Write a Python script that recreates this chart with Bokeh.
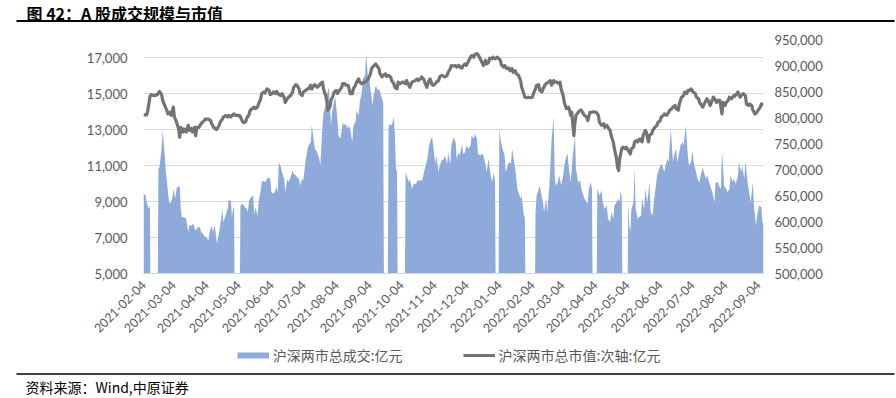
import math
from datetime import datetime, timedelta

from bokeh.plotting import figure
from bokeh.layouts import column
from bokeh.models import (Range1d, LinearAxis, FixedTicker, DatetimeTickFormatter,
                          NumeralTickFormatter, Legend, LegendItem)
from bokeh.core.properties import value
from bokeh.embed import file_html
from bokeh.resources import INLINE

# ---------------- data ----------------
START = "2021-02-04"          # first day on the date axis (day 0)
END = "2022-09-09"            # last day on the date axis

x_tick_labels = ["2021-02-04", "2021-03-04", "2021-04-04", "2021-05-04", "2021-06-04",
                 "2021-07-04", "2021-08-04", "2021-09-04", "2021-10-04", "2021-11-04",
                 "2021-12-04", "2022-01-04", "2022-02-04", "2022-03-04", "2022-04-04",
                 "2022-05-04", "2022-06-04", "2022-07-04", "2022-08-04", "2022-09-04"]
left_ticks = [5000, 7000, 9000, 11000, 13000, 15000, 17000]
right_ticks = [500000, 550000, 600000, 650000, 700000, 750000, 800000, 850000, 900000, 950000]

# market closed (holiday) periods, as (first day, last day) counted from START
closed_days = [(7, 13), (86, 90), (226, 229), (239, 245), (331, 333), (359, 367), (422, 425), (450, 454)]

# 沪深两市总成交 (亿元): (day from START, value)
turnover = [
    (0, 9430), (2, 9330), (3, 8960), (5, 8590), (6, 8780),
    (14, 10820), (15, 10910), (17, 11930), (18, 12950), (20, 11560), (21, 10630), (22, 10070),
    (24, 8960), (25, 8870), (27, 9150), (28, 9700), (30, 9170), (31, 9700), (32, 9800), (34, 9850),
    (35, 8610), (36, 8130), (38, 8130), (40, 8040), (42, 7300), (43, 7670), (45, 7670), (47, 7760),
    (48, 7480), (49, 7390), (51, 7570), (53, 7570), (54, 7300), (56, 7200), (58, 7020), (59, 7020),
    (61, 6830), (62, 7300), (64, 7670), (65, 7300), (67, 7670), (68, 7110), (69, 6650), (71, 7300),
    (73, 8040), (74, 8590), (75, 7850), (77, 8220), (79, 8590), (80, 9060), (82, 9060), (83, 8130),
    (84, 8590), (85, 8690),
    (91, 8780), (93, 8870), (95, 8690), (97, 8590), (98, 8410), (99, 9060), (101, 9240), (103, 9330),
    (104, 8220), (105, 8690), (107, 8220), (108, 8960), (110, 9610), (111, 10070), (112, 10170),
    (114, 10070), (115, 10170), (117, 10350), (119, 10260), (120, 9520), (122, 9430), (123, 9520),
    (125, 9800), (126, 9520), (127, 11190), (129, 10910), (130, 10630), (132, 10260), (133, 9520),
    (135, 10260), (136, 10070), (138, 10350), (140, 10720), (141, 10540), (143, 10440), (144, 10350),
    (146, 10260), (147, 9890), (149, 10260), (150, 10170), (152, 11190), (154, 11930), (155, 12110),
    (157, 12300), (158, 13220), (160, 12300), (161, 11930), (163, 11740), (165, 11370), (166, 11000),
    (168, 13220), (169, 13960), (171, 14330), (172, 14890), (174, 15350), (176, 13220), (177, 13960),
    (179, 14610), (180, 14800), (182, 13590), (183, 12670), (185, 12480), (187, 13410), (188, 13220),
    (190, 13320), (191, 13040), (192, 13220), (194, 13040), (196, 12300), (197, 13220), (199, 13410),
    (200, 14060), (202, 13780), (203, 14520), (205, 15070), (206, 15820), (208, 16000), (209, 17210),
    (211, 15630), (212, 15820), (213, 15260), (215, 14330), (216, 14890), (218, 15440), (220, 15170),
    (221, 15260), (223, 14890), (224, 14700), (225, 14520),
    (230, 13040), (231, 13320), (233, 13220), (235, 13690), (236, 12670), (237, 10820), (238, 10630),
    (246, 10630), (247, 10440), (249, 10070), (250, 10260), (252, 9700), (253, 9890), (254, 9980),
    (256, 9980), (257, 10170), (259, 10170), (261, 10170), (262, 10260), (264, 10820), (265, 11000),
    (267, 11560), (268, 12110), (270, 12480), (271, 12570), (273, 11560), (274, 11090), (275, 11560),
    (277, 10630), (278, 11000), (280, 11280), (282, 11370), (283, 11560), (285, 11090), (286, 11740),
    (288, 11090), (289, 12110), (291, 12570), (293, 12300), (294, 11370), (296, 11740), (297, 11560),
    (299, 12200), (300, 11650), (302, 11740), (303, 12110), (305, 11930), (307, 12110), (308, 12670),
    (310, 12480), (311, 12760), (313, 12480), (314, 11650), (316, 11560), (318, 11650), (319, 11560),
    (321, 11090), (322, 10630), (324, 11370), (325, 10820), (327, 10070), (329, 10630), (330, 10070),
    (334, 13040), (335, 12480), (337, 11930), (339, 11560), (340, 10630), (342, 11000), (343, 11190),
    (345, 11090), (346, 11930), (348, 11190), (349, 10820), (351, 9700), (353, 9330), (354, 9150),
    (355, 9330), (357, 8220), (358, 8130),
    (368, 8410), (369, 9330), (371, 9700), (372, 9890), (373, 9520), (375, 8960), (376, 8410),
    (378, 9150), (379, 8410), (381, 9890), (382, 11000), (383, 12390), (385, 13690), (386, 10440),
    (387, 9890), (389, 10070), (390, 10440), (391, 10260), (392, 9890), (394, 10440), (395, 11000),
    (397, 11560), (398, 11650), (399, 11000), (401, 10070), (402, 10820), (403, 11560), (405, 12670),
    (406, 10820), (408, 10070), (410, 10170), (411, 9700), (413, 9330), (414, 9150), (416, 8960),
    (417, 8870), (418, 9700), (420, 10070), (421, 9700),
    (426, 9700), (427, 9520), (428, 9330), (430, 9610), (431, 8960), (433, 8590), (435, 8780),
    (436, 8040), (438, 7850), (439, 8410), (441, 8040), (442, 8780), (444, 8960), (446, 9150),
    (447, 8960), (448, 9610), (449, 9150),
    (455, 8960), (456, 7670), (457, 7300), (458, 8590), (460, 8960), (461, 10820), (462, 8590),
    (464, 8040), (465, 8130), (467, 8220), (468, 9150), (470, 8590), (471, 9700), (473, 8960),
    (475, 10070), (476, 8410), (478, 8220), (479, 8960), (481, 9890), (482, 10440), (484, 10820),
    (486, 11090), (487, 11000), (489, 10630), (490, 11000), (492, 11370), (493, 11190), (495, 13040),
    (497, 11190), (498, 11560), (500, 11930), (501, 11190), (503, 11740), (504, 12110), (506, 12300),
    (507, 12110), (509, 13220), (511, 11560), (512, 11000), (514, 11190), (515, 11830), (517, 11000),
    (518, 10820), (520, 10260), (522, 10070), (523, 10440), (525, 10910), (526, 10630), (528, 10260),
    (529, 10440), (531, 10070), (533, 9700), (534, 9520), (536, 8960), (537, 10070), (539, 10070),
    (540, 9890), (542, 9700), (543, 11830), (545, 9890), (547, 9700), (548, 9520), (550, 9700),
    (551, 10440), (553, 10070), (554, 10260), (556, 9980), (558, 10440), (559, 11190), (561, 10630),
    (562, 11000), (564, 10260), (565, 11280), (567, 10070), (569, 9330), (570, 8960), (572, 10070),
    (573, 8780), (575, 7670), (576, 8220), (578, 8780), (580, 8690), (581, 7850), (582, 7760),
]

# 沪深两市总市值 (亿元, secondary axis): (day from START, value)
market_cap = [
    (0, 805000), (3, 805000), (4, 813000), (6, 839000), (7, 844000), (10, 842000), (13, 844000),
    (15, 850000), (17, 844000), (18, 833000), (20, 823000), (22, 813000), (23, 807000), (25, 810000),
    (26, 804000), (28, 820000), (29, 801000), (31, 791000), (33, 778000), (34, 762000), (35, 781000),
    (37, 772000), (38, 778000), (40, 772000), (42, 785000), (43, 775000), (45, 779000), (46, 772000),
    (48, 781000), (49, 765000), (50, 781000), (52, 781000), (54, 788000), (55, 790000), (57, 794000),
    (58, 797000), (60, 797000), (61, 797000), (63, 794000), (64, 788000), (66, 781000), (68, 777000),
    (69, 778000), (71, 785000), (72, 791000), (74, 797000), (75, 801000), (77, 804000), (79, 801000),
    (80, 804000), (82, 801000), (83, 804000), (85, 807000), (86, 804000), (90, 804000), (91, 801000),
    (93, 792000), (94, 790000), (96, 792000), (97, 799000), (99, 805000), (100, 813000), (102, 817000),
    (104, 820000), (105, 817000), (107, 820000), (108, 826000), (110, 836000), (111, 846000),
    (113, 849000), (114, 847000), (116, 855000), (118, 852000), (119, 844000), (121, 846000),
    (122, 849000), (124, 846000), (125, 850000), (127, 844000), (129, 842000), (130, 846000),
    (132, 839000), (133, 829000), (135, 836000), (136, 839000), (138, 842000), (140, 849000),
    (141, 858000), (143, 863000), (144, 862000), (146, 855000), (147, 846000), (149, 842000),
    (150, 849000), (152, 852000), (154, 855000), (155, 855000), (157, 862000), (158, 855000),
    (160, 862000), (161, 863000), (163, 858000), (165, 862000), (166, 865000), (168, 868000),
    (169, 855000), (171, 842000), (172, 833000), (173, 814000), (175, 820000), (176, 833000),
    (178, 842000), (179, 849000), (181, 852000), (182, 846000), (184, 852000), (186, 858000),
    (187, 865000), (189, 865000), (190, 862000), (192, 862000), (193, 855000), (194, 846000),
    (196, 846000), (197, 855000), (199, 862000), (200, 868000), (202, 874000), (203, 868000),
    (205, 865000), (206, 867000), (208, 868000), (210, 871000), (211, 874000), (213, 884000),
    (214, 894000), (216, 899000), (218, 903000), (219, 900000), (221, 894000), (222, 884000),
    (224, 878000), (225, 881000), (227, 884000), (228, 879000), (230, 881000), (232, 878000),
    (233, 871000), (235, 865000), (236, 858000), (238, 855000), (239, 868000), (241, 865000),
    (243, 868000), (244, 868000), (246, 865000), (247, 871000), (249, 862000), (250, 858000),
    (252, 868000), (255, 871000), (257, 874000), (258, 871000), (260, 874000), (261, 878000),
    (263, 874000), (264, 868000), (266, 858000), (268, 871000), (269, 874000), (271, 863000),
    (272, 862000), (274, 865000), (275, 868000), (277, 871000), (278, 878000), (280, 881000),
    (282, 879000), (283, 878000), (285, 881000), (286, 887000), (288, 894000), (289, 900000),
    (291, 899000), (293, 900000), (294, 897000), (296, 900000), (297, 897000), (299, 895000),
    (300, 900000), (302, 903000), (303, 900000), (305, 908000), (307, 916000), (308, 919000),
    (310, 916000), (311, 921000), (313, 923000), (314, 921000), (316, 913000), (318, 905000),
    (319, 900000), (321, 910000), (322, 903000), (324, 906000), (325, 914000), (327, 913000),
    (328, 916000), (330, 913000), (332, 916000), (333, 914000), (335, 910000), (336, 901000),
    (338, 897000), (339, 900000), (341, 894000), (343, 895000), (344, 890000), (346, 894000),
    (347, 887000), (349, 890000), (350, 884000), (352, 881000), (354, 871000), (355, 858000),
    (357, 846000), (358, 839000), (360, 838000), (361, 839000), (363, 838000), (365, 839000),
    (366, 846000), (368, 855000), (369, 862000), (371, 863000), (372, 852000), (374, 849000),
    (375, 855000), (377, 863000), (379, 867000), (380, 868000), (382, 871000), (383, 862000),
    (385, 871000), (386, 868000), (388, 868000), (390, 865000), (391, 868000), (392, 855000),
    (394, 842000), (395, 829000), (397, 817000), (399, 820000), (400, 814000), (401, 804000),
    (402, 810000), (403, 788000), (404, 765000), (405, 791000), (406, 804000), (408, 810000),
    (410, 814000), (411, 814000), (413, 807000), (414, 804000), (416, 801000), (417, 794000),
    (419, 810000), (421, 810000), (422, 811000), (425, 810000), (427, 804000), (428, 791000),
    (430, 785000), (432, 788000), (433, 781000), (435, 785000), (436, 781000), (438, 775000),
    (439, 765000), (441, 753000), (442, 740000), (444, 721000), (445, 704000), (446, 698000),
    (447, 721000), (449, 740000), (450, 743000), (452, 740000), (453, 743000), (455, 737000),
    (457, 730000), (458, 740000), (460, 743000), (461, 753000), (463, 756000), (464, 753000),
    (466, 759000), (468, 753000), (469, 765000), (471, 775000), (472, 772000), (474, 753000),
    (475, 765000), (477, 769000), (478, 775000), (480, 781000), (482, 785000), (483, 791000),
    (485, 794000), (486, 801000), (488, 804000), (489, 807000), (491, 804000), (493, 810000),
    (494, 814000), (496, 817000), (497, 820000), (499, 823000), (500, 817000), (502, 814000),
    (503, 826000), (505, 839000), (507, 842000), (508, 849000), (510, 846000), (511, 852000),
    (513, 852000), (514, 855000), (516, 849000), (518, 846000), (519, 839000), (521, 836000),
    (522, 829000), (524, 823000), (525, 820000), (527, 829000), (529, 836000), (530, 833000),
    (532, 823000), (533, 829000), (535, 839000), (536, 836000), (538, 829000), (539, 833000),
    (541, 833000), (543, 807000), (544, 829000), (546, 823000), (547, 829000), (549, 833000),
    (550, 839000), (552, 836000), (554, 842000), (555, 841000), (557, 846000), (558, 849000),
    (560, 839000), (561, 842000), (563, 846000), (565, 842000), (566, 826000), (568, 823000),
    (569, 826000), (571, 823000), (572, 814000), (574, 807000), (575, 808000), (577, 814000),
    (579, 820000), (580, 826000), (582, 825000),
]

title_text = "图 42：A 股成交规模与市值"
source_text = "资料来源：Wind,中原证券"
legend_labels = ["沪深两市总成交:亿元", "沪深两市总市值:次轴:亿元"]

# ---------------- styles ----------------
AREA = "#8eaadb"
LINE = "#737373"
TXT = "#595959"
GRID = "#d9d9d9"
CJK = "Noto Sans CJK SC"
NUM = "Lato"
W = 896

EPOCH = datetime(1970, 1, 1)


def ms(d):
    return (d - EPOCH).total_seconds() * 1000.0


start_dt = datetime.strptime(START, "%Y-%m-%d")
end_dt = datetime.strptime(END, "%Y-%m-%d")


def day_ms(n):
    return ms(start_dt + timedelta(days=n))


# turnover with zero rows on market-closed days (as in the source sheet)
vol_pts = list(turnover) + [(a, 0) for a, b in closed_days] + [(b, 0) for a, b in closed_days]
vol_pts.sort()
vol_x = [day_ms(d) for d, v in vol_pts]
vol_y = [v for d, v in vol_pts]
cap_x = [day_ms(d) for d, v in market_cap]
cap_y = [v for d, v in market_cap]


def no_align(fig):
    try:
        fig.frame_align = False
    except Exception:
        pass


def strip(fig):
    fig.outline_line_color = None
    fig.background_fill_color = "white"
    fig.border_fill_color = "white"
    fig.grid.visible = False
    no_align(fig)


# ---------------- header: title + rule (pixel-scaled strip) ----------------
HH = 24
hdr = figure(width=W, height=HH, x_range=Range1d(0, W), y_range=Range1d(HH, 0),
             x_axis_location=None, y_axis_location=None, title=None,
             min_border_left=0, min_border_right=0, min_border_top=0, min_border_bottom=0,
             output_backend="svg", toolbar_location=None)
strip(hdr)
hdr.text(x=[26], y=[12.5], text=[title_text], text_font=value(CJK), text_font_size="16px",
         text_font_style="bold", text_color="black", text_baseline="alphabetic", text_align="left")
hdr.line(x=[16, 894], y=[20.5, 20.5], line_color="black", line_width=2)

# ---------------- main chart ----------------
MH = 316
p = figure(width=W, height=MH, output_backend="svg", toolbar_location=None, title=None,
           x_axis_type="datetime",
           x_range=Range1d(ms(start_dt), ms(end_dt)), y_range=Range1d(5000, 18000),
           min_border_left=143, min_border_right=133, min_border_top=15, min_border_bottom=67)
p.outline_line_color = None
p.background_fill_color = "white"
p.border_fill_color = "white"
no_align(p)
p.extra_y_ranges = {"cap": Range1d(500000, 950000)}

area_r = p.varea(x=vol_x, y1=0, y2=vol_y, fill_color=AREA, fill_alpha=1.0)
line_r = p.line(cap_x, cap_y, y_range_name="cap", line_color=LINE, line_width=3.2,
                line_join="round")

rax = LinearAxis(y_range_name="cap")
p.add_layout(rax, "right")

p.yaxis[0].ticker = FixedTicker(ticks=left_ticks)
rax.ticker = FixedTicker(ticks=right_ticks)
for ax in p.yaxis:
    ax.formatter = NumeralTickFormatter(format="0,0")
    ax.axis_line_color = None
    ax.major_tick_line_color = None
    ax.minor_tick_line_color = None
    ax.major_tick_out = 0
    ax.minor_tick_out = 0
    ax.major_label_text_color = TXT
    ax.major_label_text_font = NUM
    ax.major_label_text_font_size = "13px"
p.yaxis[0].major_label_standoff = 16
rax.major_label_standoff = 11

xt = [ms(datetime.strptime(s, "%Y-%m-%d")) for s in x_tick_labels]
xa = p.xaxis[0]
xa.ticker = FixedTicker(ticks=xt)
fmt = "%Y-%m-%d"
xa.formatter = DatetimeTickFormatter(microseconds=fmt, milliseconds=fmt, seconds=fmt,
                                     minsec=fmt, minutes=fmt, hourmin=fmt, hours=fmt,
                                     days=fmt, months=fmt, years=fmt)
xa.major_label_orientation = math.pi / 4
xa.axis_line_color = GRID
xa.major_tick_line_color = None
xa.minor_tick_line_color = None
xa.major_tick_out = 0
xa.minor_tick_out = 0
xa.major_label_text_color = TXT
xa.major_label_text_font = NUM
xa.major_label_text_font_size = "12.5px"
xa.major_label_standoff = 9

p.xgrid.visible = False
p.ygrid.grid_line_color = GRID
p.ygrid.grid_line_width = 1

# ---------------- footer: legend, rule, source (pixel-scaled strip) ----------------
FH = 56
ftr = figure(width=W, height=FH, x_range=Range1d(0, W), y_range=Range1d(FH, 0),
             x_axis_location=None, y_axis_location=None, title=None,
             min_border_left=0, min_border_right=0, min_border_top=0, min_border_bottom=0,
             output_backend="svg", toolbar_location=None)
strip(ftr)
# legend swatches (kept outside the visible strip; only their styles are used)
sw_area = ftr.line(x=[-20, -10], y=[-20, -20], line_color=AREA, line_width=6)
sw_line = ftr.line(x=[-20, -10], y=[-20, -20], line_color=LINE, line_width=3.2)
legend = Legend(items=[LegendItem(label=value(legend_labels[0]), renderers=[sw_area]),
                       LegendItem(label=value(legend_labels[1]), renderers=[sw_line])],
                orientation="horizontal", location=(236.7, FH - 24.5),
                glyph_width=32, glyph_height=18, label_height=18, label_standoff=4,
                spacing=60, padding=0, margin=0,
                border_line_color=None, background_fill_alpha=0,
                label_text_font=CJK, label_text_font_size="14px", label_text_color=TXT)
ftr.add_layout(legend, "center")
ftr.line(x=[16, 894], y=[33.5, 33.5], line_color="black", line_width=1.5)
ftr.text(x=[25], y=[46.5], text=[source_text], text_font=value(CJK), text_font_size="14px",
         text_color="black", text_baseline="alphabetic", text_align="left")

layout = column(hdr, p, ftr, spacing=0)
open("out.html", "w").write(file_html(layout, INLINE))
